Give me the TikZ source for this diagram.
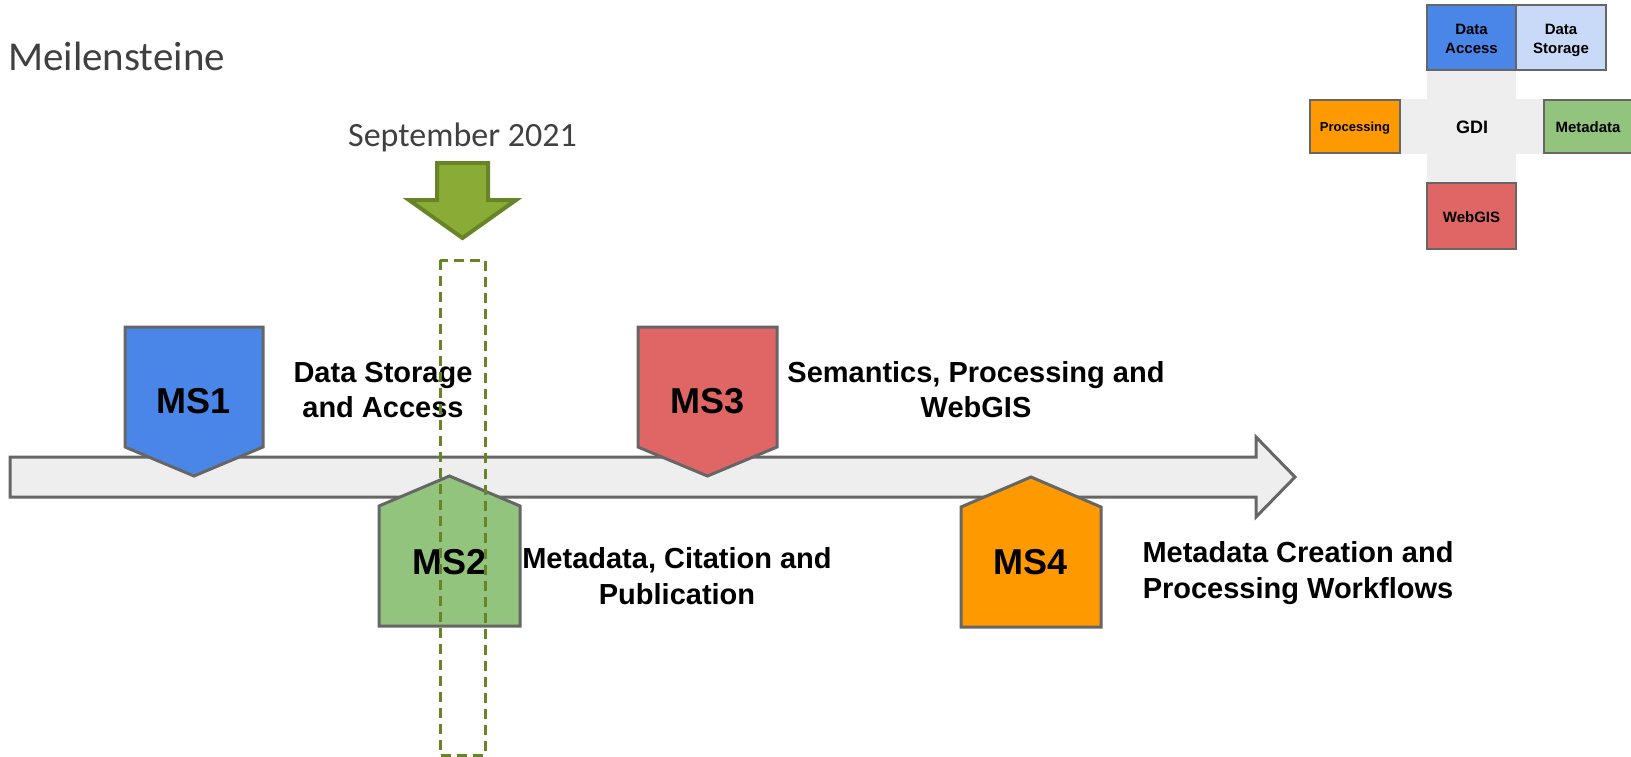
\documentclass[tikz,border=0pt]{standalone}
\usepackage{fontspec}
\setmainfont{Carlito}
\newfontfamily\arial{Liberation Sans}
\definecolor{msblue}{HTML}{4A86E8}
\definecolor{lightblue}{HTML}{C9DAF8}
\definecolor{msorange}{HTML}{FF9900}
\definecolor{msgreen}{HTML}{93C47D}
\definecolor{msred}{HTML}{E06666}
\definecolor{crossgray}{HTML}{EEEEEE}
\definecolor{edgegray}{HTML}{666666}
\definecolor{olivefill}{HTML}{8AAC37}
\definecolor{olivedark}{HTML}{678527}
\definecolor{titlegray}{HTML}{404040}
\tikzset{
  ms/.style={draw=edgegray, line width=3, line join=miter},
  mslabel/.style={font=\arial\bfseries\fontsize{36}{43}\selectfont, anchor=base, inner sep=0},
  desc/.style={font=\arial\bfseries\fontsize{29}{35}\selectfont, anchor=base, inner sep=0},
  legbox/.style={draw=edgegray, line width=1.5, anchor=north west, inner sep=0, outer sep=0},
  legtext/.style={font=\arial\bfseries\fontsize{15}{19}\selectfont, anchor=base, inner sep=0},
}
\begin{document}
\begin{tikzpicture}[x=1pt, y=-1pt]
\useasboundingbox (0,0) rectangle (1631,756);

% title
\node[font=\fontsize{41}{49}\selectfont, text=titlegray, anchor=base west, inner sep=0] (title) at (8,70) {Meilensteine};

% timeline arrow
\draw[ms, fill=crossgray] (10,457) -- (1256,457) -- (1256,437) -- (1295,477) -- (1256,517) -- (1256,497) -- (10,497) -- cycle;

% MS1
\draw[ms, fill=msblue] (125,327) -- (263,327) -- (263,447) -- (194,476) -- (125,447) -- cycle;
\node[mslabel] (ms1) at (194,413) {MS1};
% MS3
\draw[ms, fill=msred] (638,327) -- (777,327) -- (777,447) -- (707.5,476) -- (638,447) -- cycle;
\node[mslabel] (ms3) at (707.5,413) {MS3};
% MS2
\draw[ms, fill=msgreen] (379,626) -- (520,626) -- (520,506) -- (449.5,476) -- (379,506) -- cycle;
\node[mslabel] (ms2) at (449.5,574) {MS2};
% MS4
\draw[ms, fill=msorange] (961,627) -- (1101,627) -- (1101,507) -- (1031,477) -- (961,507) -- cycle;
\node[mslabel] (ms4) at (1031,574) {MS4};

% descriptions
\node[desc] (d1a) at (383,382) {Data Storage};
\node[desc] (d1b) at (383,417) {and Access};
\node[desc] (d3a) at (976,382) {Semantics, Processing and};
\node[desc] (d3b) at (976,417) {WebGIS};
\node[desc] (d2a) at (677,568) {Metadata, Citation and};
\node[desc] (d2b) at (677,604) {Publication};
\node[desc] (d4a) at (1298,562) {Metadata Creation and};
\node[desc] (d4b) at (1298,598) {Processing Workflows};

% September marker
\node[font=\fontsize{34}{41}\selectfont, text=titlegray, anchor=base, inner sep=0] (sep) at (462.5,146) {September 2021};
\draw[draw=olivedark, fill=olivefill, line width=4, line join=miter] (437,163) -- (488,163) -- (488,200) -- (516,200) -- (462.5,238) -- (409,200) -- (437,200) -- cycle;
\draw[olivedark, line width=3, dash pattern=on 10 off 6] (440,260) rectangle (485,755);

% legend
\fill[crossgray] (1427,70) rectangle (1516,183);
\fill[crossgray] (1400,99) rectangle (1544,154);
\node[legbox, fill=msblue, minimum width=89, minimum height=65] (la) at (1427,5) {};
\node[legbox, fill=lightblue, minimum width=90, minimum height=65] (ls) at (1516,5) {};
\node[legbox, fill=msorange, minimum width=90, minimum height=53] (lp) at (1310,100) {};
\node[legbox, fill=msgreen, minimum width=90, minimum height=53] (lm) at (1544,100) {};
\node[legbox, fill=msred, minimum width=89, minimum height=66] (lw) at (1427,183) {};
\node[legtext] (tDA1) at (1471.5,34) {Data};
\node[legtext] (tDA2) at (1471.5,53) {Access};
\node[legtext] (tDS1) at (1561,34) {Data};
\node[legtext] (tDS2) at (1561,53) {Storage};
\node[legtext, font=\arial\bfseries\fontsize{13}{16}\selectfont] (tP) at (1355,131) {Processing};
\node[legtext, font=\arial\bfseries\fontsize{18}{22}\selectfont] (tG) at (1472,133) {GDI};
\node[legtext] (tM) at (1588,132) {Metadata};
\node[legtext] (tW) at (1471.5,222) {WebGIS};
\end{tikzpicture}
\end{document}
